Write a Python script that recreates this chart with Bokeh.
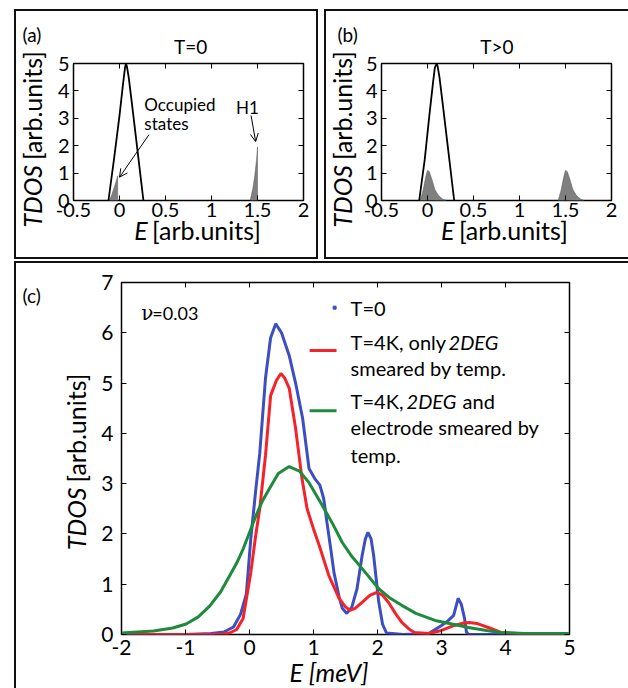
import numpy as np
from bokeh.plotting import figure
from bokeh.models import Range1d, LinearAxis, Label, Arrow, OpenHead, FixedTicker
from bokeh.layouts import row, column
from bokeh.embed import file_html
from bokeh.resources import INLINE

FONT = "Lato"

# ---------------- panel (a): T=0 ----------------
a_dos_x = [-0.12, -0.06, 0.0, 0.04, 0.06, 0.07, 0.08, 0.10, 0.14, 0.20, 0.26]
a_dos_y = [0.0, 1.5, 3.1, 4.3, 4.85, 5.0, 4.9, 4.5, 3.4, 1.7, 0.0]
a_occ_x = [-0.11, -0.08, -0.05, -0.03, -0.02, -0.02]
a_occ_y = [0.0, 0.25, 0.55, 0.78, 0.9, 0.0]
a_h1_x = [1.42, 1.45, 1.47, 1.49, 1.50, 1.50]
a_h1_y = [0.0, 0.45, 0.9, 1.5, 1.95, 0.0]

# ---------------- panel (b): T>0 ----------------
b_dos_x = [-0.09, -0.03, 0.02, 0.06, 0.08, 0.10, 0.11, 0.13, 0.17, 0.23, 0.29]
b_dos_y = [0.0, 1.5, 3.1, 4.3, 4.85, 5.0, 4.9, 4.5, 3.4, 1.7, 0.0]
b_occ1_x = [-0.08, -0.05, -0.02, 0.0, 0.02, 0.05, 0.08, 0.12, 0.16, 0.20]
b_occ1_y = [0.0, 0.35, 0.85, 1.1, 1.05, 0.75, 0.4, 0.18, 0.06, 0.0]
b_occ2_x = [1.42, 1.45, 1.48, 1.50, 1.52, 1.55, 1.58, 1.62, 1.66, 1.70]
b_occ2_y = [0.0, 0.35, 0.85, 1.1, 1.05, 0.75, 0.4, 0.18, 0.06, 0.0]

ab_xticks = [-0.5, 0.0, 0.5, 1.0, 1.5, 2.0]
ab_xtick_labels = ["-0.5", "0", "0.5", "1", "1.5", "2"]
ab_yticks = [0.0, 1.0, 2.0, 3.0, 4.0, 5.0]
ab_ytick_labels = ["0", "1", "2", "3", "4", "5"]

# ---------------- panel (c) ----------------
c_t0_x = [-2.0, -1.0, -0.6, -0.4, -0.25, -0.14, -0.05, 0.02, 0.1, 0.16, 0.25, 0.33,
          0.41, 0.5, 0.62, 0.72, 0.83, 0.93, 1.02, 1.1, 1.16, 1.21, 1.27, 1.32, 1.4,
          1.45, 1.52, 1.6, 1.68, 1.76, 1.81, 1.85, 1.9, 1.94, 2.02, 2.08, 2.14, 2.4,
          2.8, 3.0, 3.1, 3.19, 3.26, 3.31, 3.36, 3.39, 3.42, 4.0, 5.0]
c_t0_y = [0.0, 0.0, 0.02, 0.05, 0.15, 0.4, 0.8, 1.9, 2.9, 3.6, 5.1, 5.9,
          6.18, 6.0, 5.55, 5.0, 4.3, 3.3, 3.1, 2.97, 2.7, 2.23, 1.7, 1.23, 0.75,
          0.52, 0.42, 0.55, 0.91, 1.57, 1.9, 2.03, 1.9, 1.57, 0.64, 0.2, 0.03, 0.0,
          0.02, 0.18, 0.27, 0.38, 0.72, 0.6, 0.32, 0.05, 0.0, 0.0, 0.0]

c_2deg_x = [-2.0, -0.6, -0.4, -0.31, -0.2, -0.1, 0.02, 0.1, 0.16, 0.25, 0.33, 0.42,
            0.49, 0.55, 0.62, 0.72, 0.82, 0.9, 1.0, 1.09, 1.24, 1.4, 1.5, 1.57, 1.65,
            1.76, 1.88, 1.99, 2.08, 2.17, 2.28, 2.38, 2.5, 2.58, 2.8, 3.0, 3.2, 3.35,
            3.44, 3.55, 3.73, 3.93, 4.2, 5.0]
c_2deg_y = [0.0, 0.0, 0.01, 0.03, 0.1, 0.32, 1.23, 2.0, 2.5, 3.56, 4.75, 5.05,
            5.19, 5.1, 4.9, 4.1, 3.1, 2.5, 2.1, 1.77, 1.17, 0.72, 0.55, 0.48, 0.52,
            0.64, 0.78, 0.84, 0.78, 0.64, 0.42, 0.24, 0.1, 0.04, 0.02, 0.08, 0.18, 0.23,
            0.24, 0.22, 0.14, 0.04, 0.02, 0.02]

c_both_x = [-2.0, -1.5, -1.2, -0.99, -0.8, -0.62, -0.45, -0.31, -0.2, -0.1, 0.0, 0.1,
            0.2, 0.31, 0.45, 0.62, 0.78, 0.93, 1.14, 1.3, 1.45, 1.6, 1.76, 2.02, 2.2,
            2.38, 2.6, 2.9, 3.2, 3.42, 3.7, 3.93, 4.3, 5.0]
c_both_y = [0.03, 0.07, 0.13, 0.21, 0.35, 0.57, 0.85, 1.17, 1.42, 1.7, 2.03, 2.36,
            2.65, 2.9, 3.2, 3.34, 3.25, 3.02, 2.56, 2.2, 1.83, 1.55, 1.31, 0.91, 0.72,
            0.58, 0.42, 0.28, 0.2, 0.14, 0.08, 0.04, 0.02, 0.02]

c_xticks = [-2.0, -1.0, 0.0, 1.0, 2.0, 3.0, 4.0, 5.0]
c_xtick_labels = ["-2", "-1", "0", "1", "2", "3", "4", "5"]
c_yticks = [0.0, 1.0, 2.0, 3.0, 4.0, 5.0, 6.0, 7.0]
c_ytick_labels = ["0", "1", "2", "3", "4", "5", "6", "7"]

BLUE = "#3d4fc0"
RED = "#f5222a"
GREEN = "#1e8a3c"
GRAY = "#7f7f7f"
AX_FS = "25px"


def make_fig(w, h, xr, yr, bl, br, bt, bb, **kw):
    p = figure(width=w, height=h, x_range=Range1d(*xr), y_range=Range1d(*yr),
               output_backend="svg", toolbar_location=None,
               min_border_left=bl, min_border_right=br,
               min_border_top=bt, min_border_bottom=bb, **kw)
    p.grid.visible = False
    p.outline_line_color = "black"
    p.outline_line_width = 1.5
    p.border_fill_color = None
    p.background_fill_color = "white"
    return p


def helper(w, h, transparent=False, **kw):
    f = figure(width=w, height=h, x_range=Range1d(0, w), y_range=Range1d(0, h),
               x_axis_location=None, y_axis_location=None, min_border=0,
               toolbar_location=None, output_backend="svg", **kw)
    f.grid.visible = False
    f.outline_line_color = None
    fill = None if transparent else "white"
    f.border_fill_color = fill
    f.background_fill_color = fill
    return f


def style_axes(p, xt, xl, yt, yl, fs, xso, yso):
    common = dict(axis_line_color=None, major_tick_in=5, major_tick_out=0,
                  minor_tick_line_color=None, major_tick_line_color="black",
                  major_tick_line_width=1)
    for ax, t, l, so in ((p.xaxis[0], xt, xl, xso), (p.yaxis[0], yt, yl, yso)):
        ax.ticker = FixedTicker(ticks=t)
        ax.major_label_overrides = {float(v): s for v, s in zip(t, l)}
        ax.major_label_text_font = FONT
        ax.major_label_text_font_size = fs
        ax.major_label_text_color = "black"
        ax.major_label_standoff = so
        for k, v in common.items():
            setattr(ax, k, v)
    # mirrored tick marks on top and right (no labels)
    for t, side in ((xt, "above"), (yt, "right")):
        p.add_layout(LinearAxis(ticker=FixedTicker(ticks=t), major_label_text_font_size="1px",
                                major_label_text_color=None, major_label_standoff=0,
                                **common), side)


def lab(p, x, y, text, size, align="left", base="middle", italic=False, angle=0.0,
        xo=0, yo=0, color="black", font=FONT):
    p.add_layout(Label(x=x, y=y, text=text, text_font=font, text_font_size=size,
                       text_align=align, text_baseline=base, angle=angle,
                       x_offset=xo, y_offset=yo, text_color=color,
                       text_font_style="italic" if italic else "normal"))


def small_panel(main_w, left_w, letter, letter_x, ylab_x, title, frame_cx):
    left = helper(left_w, 246)
    lab(left, letter_x, 223, letter, "19px")
    lab(left, ylab_x, 92.5, "TDOS", AX_FS, align="right", italic=True, angle=np.pi / 2)
    lab(left, ylab_x, 97.5, "[arb.units]", AX_FS, align="left", angle=np.pi / 2)
    top = helper(main_w, 54)
    lab(top, frame_cx, 19, title, "19px", align="center")
    # overlaps the tick-label strip of the main plot (transparent)
    bottom = helper(main_w, 44, transparent=True, margin=(-13, 0, 0, 0))
    lab(bottom, frame_cx - 49, 28, "E", AX_FS, align="right", italic=True)
    lab(bottom, frame_cx - 44, 28, "[arb.units]", AX_FS, align="left")
    return left, top, bottom


# ---------- (a) ----------
pa = make_fig(262, 177, (-0.5, 2.0), (0.0, 5.0), 18, 13, 14, 26, margin=(-16, 0, 0, 0))
style_axes(pa, ab_xticks, ab_xtick_labels, ab_yticks, ab_ytick_labels, "20px", 2, 4)
pa.patch(a_occ_x, a_occ_y, fill_color=GRAY, line_color="#555555", line_width=0.5)
pa.patch(a_h1_x, a_h1_y, fill_color=GRAY, line_color="#555555", line_width=0.5)
pa.line(a_dos_x, a_dos_y, line_color="black", line_width=1.8)
lab(pa, 0.27, 3.5, "Occupied", "17px")
lab(pa, 0.27, 2.8, "states", "17px")
lab(pa, 1.39, 3.4, "H1", "17px", align="center")
pa.add_layout(Arrow(end=OpenHead(size=8, line_width=1), x_start=0.32, y_start=2.4,
                    x_end=0.0, y_end=0.85, line_width=1))
pa.add_layout(Arrow(end=OpenHead(size=8, line_width=1), x_start=1.43, y_start=3.1,
                    x_end=1.48, y_end=2.15, line_width=1))
la, ta, ba = small_panel(262, 38, "(a)", 6, 15, "T=0", 18 + 115.5)
panel_a = row(la, column(ta, pa, ba))
panel_a.styles = {"box-shadow": "0 0 0 2px #111"}

# ---------- (b) ----------
pb = make_fig(266, 177, (-0.5, 2.0), (0.0, 5.0), 18, 17, 14, 26, margin=(-16, 0, 0, 0))
style_axes(pb, ab_xticks, ab_xtick_labels, ab_yticks, ab_ytick_labels, "20px", 2, 4)
pb.patch(b_occ1_x, b_occ1_y, fill_color=GRAY, line_color="#555555", line_width=0.5)
pb.patch(b_occ2_x, b_occ2_y, fill_color=GRAY, line_color="#555555", line_width=0.5)
pb.line(b_dos_x, b_dos_y, line_color="black", line_width=1.8)
lb, tb, bb_ = small_panel(266, 36, "(b)", 11, 15, "T>0", 18 + 115.5)
panel_b = row(lb, column(tb, pb, bb_))
panel_b.styles = {"box-shadow": "-1px -1px 0 1px #111, -1px 1px 0 1px #111"}

# ---------- (c) ----------
pc = make_fig(530, 401, (-2.0, 5.0), (0.0, 7.0), 20, 59, 19, 30)
pc.border_fill_color = "white"
style_axes(pc, c_xticks, c_xtick_labels, c_yticks, c_ytick_labels, "21px", 5, 8)
pc.line(c_t0_x, c_t0_y, line_color=BLUE, line_width=3)
pc.line(c_2deg_x, c_2deg_y, line_color=RED, line_width=3)
pc.line(c_both_x, c_both_y, line_color=GREEN, line_width=3)
lab(pc, -1.69, 6.4, "\u03bd", "20px", font="DejaVu Serif")
lab(pc, -1.69, 6.4, "=0.03", "18px", xo=11)
# legend
LFS = "20px"
pc.scatter([1.33], [6.5], marker="square", size=3, color=BLUE)
pc.line([0.94, 1.36], [5.65, 5.65], line_color=RED, line_width=3)
pc.line([0.94, 1.36], [4.45, 4.45], line_color=GREEN, line_width=3)
lab(pc, 1.58, 6.5, "T=0", LFS)
lab(pc, 1.58, 5.81, "T=4K, only", LFS)
lab(pc, 1.58, 5.81, "2DEG", LFS, italic=True, xo=98)
lab(pc, 1.58, 5.29, "smeared by temp.", LFS)
lab(pc, 1.58, 4.65, "T=4K,", LFS)
lab(pc, 1.58, 4.65, "2DEG", LFS, italic=True, xo=56)
lab(pc, 1.58, 4.65, "and", LFS, xo=112)
lab(pc, 1.58, 4.12, "electrode smeared by", LFS)
lab(pc, 1.58, 3.56, "temp.", LFS)

lc = helper(82, 425)
lab(lc, 6, 393, "(c)", "19px")
lab(lc, 59, 201, "TDOS", AX_FS, align="right", italic=True, angle=np.pi / 2)
lab(lc, 59, 206, "[arb.units]", AX_FS, align="left", angle=np.pi / 2)
bc = helper(530, 34, transparent=True, margin=(-10, 0, 0, 0))
lab(bc, 20 + 225.5, 17, "E [meV]", AX_FS, align="center", italic=True)
panel_c = row(lc, column(pc, bc))
panel_c.styles = {"box-shadow": "-1px -1px 0 1px #111"}

layout = column(row(panel_a, panel_b, spacing=10), panel_c, spacing=6,
                margin=(11, 0, 0, 16))

open("out.html", "w").write(file_html(layout, INLINE))
